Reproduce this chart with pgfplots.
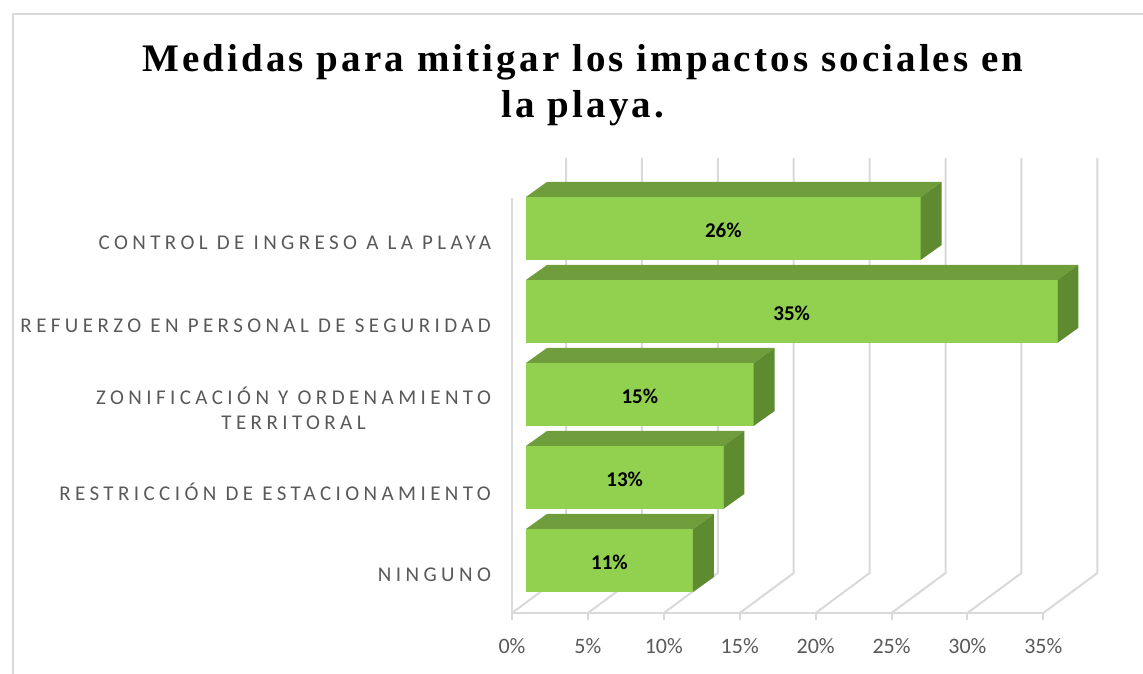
\documentclass[border=0pt]{standalone}
\usepackage{pgfplots}
\pgfplotsset{compat=1.18}
\usepackage{pgfplotstable}
\usepackage{fontspec}
\setmainfont{Carlito}
\newfontfamily\titlefont{Liberation Serif}[LetterSpace=8]
\newfontfamily\labfont{Carlito}[LetterSpace=21]
\definecolor{front}{HTML}{92D050}
\definecolor{topc}{HTML}{709D3C}
\definecolor{sidec}{HTML}{5E8A30}
\definecolor{gridc}{HTML}{D9D9D9}
\definecolor{txt}{HTML}{595959}

\pgfplotstableread{
idx v
0 11
1 13
2 15
3 35
4 26
}\datatable

\begin{document}
\begin{tikzpicture}
\useasboundingbox (0,0) rectangle (571.5pt,-336.5pt);
\draw[gridc, line width=1pt] (6.5pt,-345pt) -- (6.5pt,-7pt) -- (580pt,-7pt);
\node[font=\titlefont\bfseries\fontsize{19.5}{23}\selectfont, align=center, anchor=north, inner sep=0pt] at (291.5pt,-22pt) {Medidas para mitigar los impactos sociales en\\la playa.};
\begin{axis}[
  at={(256pt,-306.5pt)}, anchor=south west,
  x=7.59pt, y=41.5pt,
  xmin=0, xmax=35, ymin=-0.5, ymax=4.5,
  axis lines=left,
  axis line style={-, gridc, line width=1pt},
  clip=false,
  xtick={0,5,...,35},
  xticklabel={\pgfmathprintnumber{\tick}\%},
  ytick={0,1,2,3,4},
  yticklabels={NINGUNO, RESTRICCIÓN DE ESTACIONAMIENTO, {ZONIFICACIÓN Y ORDENAMIENTO\\TERRITORAL}, REFUERZO EN PERSONAL DE SEGURIDAD, CONTROL DE INGRESO A LA PLAYA},
  tick align=outside,
  major tick length=3.5pt,
  xtick style={gridc, line width=1pt},
  ytick style={draw=none},
  minor ytick={-0.5,0.5,1.5,2.5,3.5,4.5},
  minor tick length=3pt,
  minor y tick style={gridc, line width=1pt},
  xticklabel style={font=\fontsize{11}{13}\selectfont, text=txt, yshift=-5.5pt},
  yticklabel style={font=\labfont\fontsize{10.5}{12.5}\selectfont, text=txt, align=center, xshift=-3.5pt, yshift=-1.5pt},
  /pgf/number format/assume math mode=true,
]
\pgfplotsinvokeforeach{0,5,10,15,20,25,30,35}{
  \pgfmathsetmacro\xb{#1+3.557}
  \edef\tmp{\noexpand\draw[gridc, line width=1pt] (axis cs:#1,-0.5) -- (axis cs:\xb,-0.018) -- (axis cs:\xb,4.982);}
  \tmp
}
\pgfplotsinvokeforeach{0,1,2,3,4}{
  \pgfplotstablegetelem{#1}{v}\of\datatable
  \pgfmathsetmacro\xl{0.922}
  \pgfmathsetmacro\xr{0.922+\pgfplotsretval}
  \pgfmathsetmacro\yl{#1+0.133-0.3795}
  \pgfmathsetmacro\yh{#1+0.133+0.3795}
  \pgfmathsetmacro\xrb{\xr+1.383}
  \pgfmathsetmacro\xlb{\xl+1.383}
  \pgfmathsetmacro\ylb{\yl+0.181}
  \pgfmathsetmacro\yhb{\yh+0.181}
  \edef\tmp{%
    \noexpand\addplot[fill=front, draw=none, forget plot] coordinates {(\xl,\yl) (\xr,\yl) (\xr,\yh) (\xl,\yh)};
    \noexpand\addplot[fill=topc, draw=none, forget plot] coordinates {(\xl,\yh) (\xr,\yh) (\xrb,\yhb) (\xlb,\yhb)};
    \noexpand\addplot[fill=sidec, draw=none, forget plot] coordinates {(\xr,\yl) (\xrb,\ylb) (\xrb,\yhb) (\xr,\yh)};
  }%
  \tmp
}
\addplot[draw=none, mark=none, point meta=explicit,
  nodes near coords={\pgfmathprintnumber{\pgfplotspointmeta}\%},
  every node near coord/.style={font=\bfseries\fontsize{10.5}{12}\selectfont, text=black, anchor=center, yshift=-1pt}]
  table[x expr=0.922+\thisrow{v}/2, y expr=\thisrow{idx}+0.133, meta=v] {\datatable};
\end{axis}
\end{tikzpicture}
\end{document}
